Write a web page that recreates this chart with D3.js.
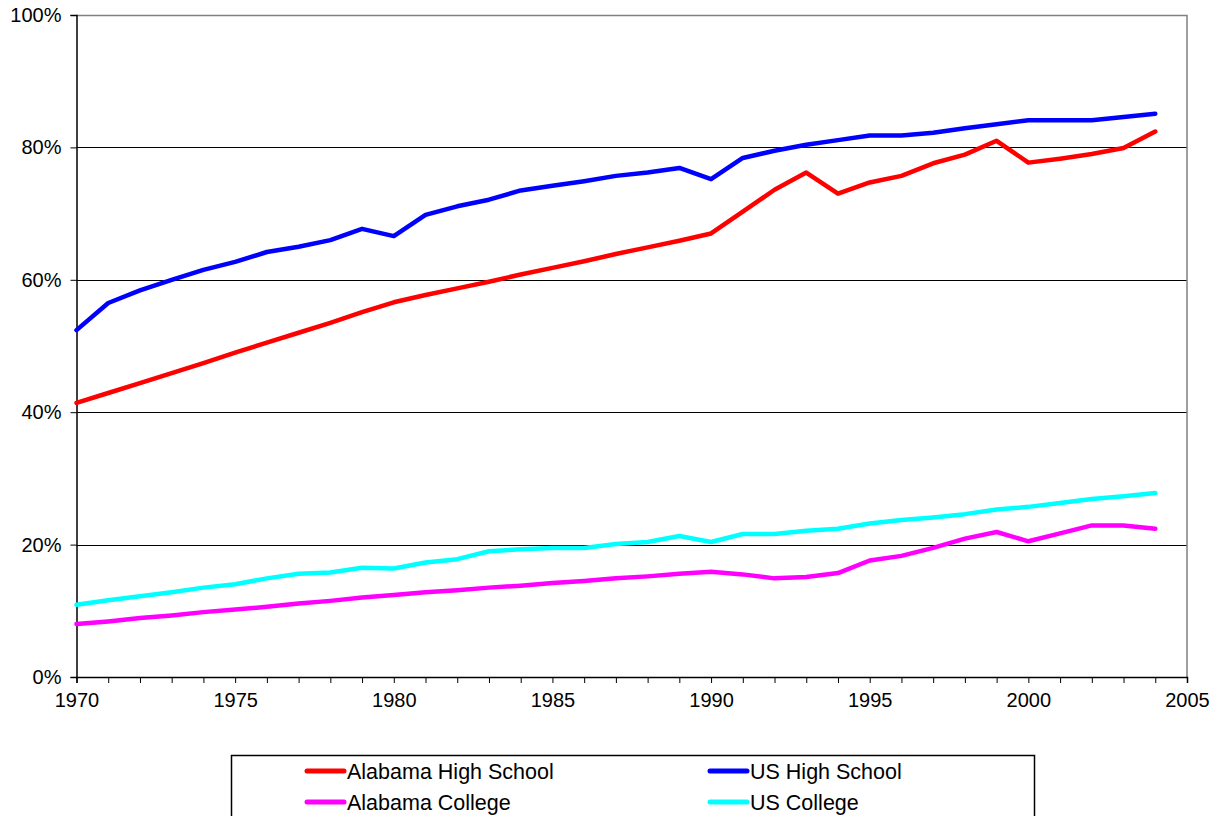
<!DOCTYPE html>
<html>
<head>
<meta charset="utf-8">
<script src="https://cdn.jsdelivr.net/npm/d3@7"></script>
<style>
  body { margin: 0; background: #fff; }
  svg { display: block; font-family: "Liberation Sans", Arial, sans-serif; }
</style>
</head>
<body>
<svg id="chart" width="1216" height="816"></svg>
<script>
const years = d3.range(1970, 2005);
const alabamaHS = [41.4, 42.9, 44.4, 45.9, 47.4, 49.0, 50.5, 52.0, 53.5, 55.1,
  56.6, 57.7, 58.7, 59.7, 60.8, 61.8, 62.8, 63.9, 64.9, 65.9,
  67.0, 70.3, 73.6, 76.2, 73.0, 74.7, 75.7, 77.6, 78.9, 81.0,
  77.7, 78.3, 79.0, 79.9, 82.4];
const usHS = [52.4, 56.5, 58.4, 60.0, 61.5, 62.7, 64.2, 65.0, 66.0, 67.7,
  66.6, 69.8, 71.1, 72.1, 73.5, 74.2, 74.9, 75.7, 76.2, 76.9,
  75.2, 78.4, 79.5, 80.4, 81.1, 81.8, 81.8, 82.2, 82.9, 83.5,
  84.1, 84.1, 84.1, 84.6, 85.1];
const alabamaCollege = [8.0, 8.4, 8.9, 9.3, 9.8, 10.2, 10.6, 11.1, 11.5, 12.0,
  12.4, 12.8, 13.1, 13.5, 13.8, 14.2, 14.5, 14.9, 15.2, 15.6,
  15.9, 15.5, 14.9, 15.1, 15.7, 17.6, 18.3, 19.5, 20.9, 21.9,
  20.5, 21.7, 22.9, 22.9, 22.4];
const usCollege = [10.9, 11.6, 12.2, 12.8, 13.5, 14.0, 14.9, 15.6, 15.8, 16.5,
  16.4, 17.3, 17.8, 19.0, 19.3, 19.5, 19.5, 20.1, 20.4, 21.3,
  20.4, 21.6, 21.6, 22.1, 22.4, 23.2, 23.7, 24.1, 24.6, 25.3,
  25.7, 26.3, 26.9, 27.3, 27.8];
const yTicks = [0, 20, 40, 60, 80, 100];
const xLabelYears = [1970, 1975, 1980, 1985, 1990, 1995, 2000, 2005];

const series = [
  { name: 'Alabama High School', values: alabamaHS, color: '#ff0000' },
  { name: 'US High School', values: usHS, color: '#0000ff' },
  { name: 'Alabama College', values: alabamaCollege, color: '#ff00ff' },
  { name: 'US College', values: usCollege, color: '#00ffff' }
];

const svg = d3.select('#chart');
const margin = { top: 15, left: 76.5, right: 1187, bottom: 677 };

const x = d3.scaleLinear().domain([1970, 2005]).range([margin.left, margin.right]);
const y = d3.scaleLinear().domain([0, 100]).range([margin.bottom, margin.top]);

// Gridlines
svg.append('g')
  .selectAll('line')
  .data(yTicks.filter(d => d > 0 && d < 100))
  .join('line')
  .attr('x1', margin.left).attr('x2', margin.right)
  .attr('y1', d => Math.round(y(d)) + 0.5).attr('y2', d => Math.round(y(d)) + 0.5)
  .attr('stroke', '#000').attr('stroke-width', 1);

// Plot frame (top and right)
svg.append('path')
  .attr('d', `M${margin.left},${margin.top + 0.5}H${margin.right}V${margin.bottom}`)
  .attr('fill', 'none').attr('stroke', '#808080').attr('stroke-width', 1.5);

// Y axis
const yAxis = svg.append('g')
  .attr('transform', `translate(${margin.left},0)`)
  .call(d3.axisLeft(y).tickValues(yTicks).tickSize(6).tickPadding(9).tickFormat(d => d + '%'));
yAxis.select('.domain').attr('stroke', '#000').attr('stroke-width', 1.5);
yAxis.selectAll('.tick line').attr('stroke', '#000');
yAxis.selectAll('text').attr('font-size', 20).attr('fill', '#000')
  .attr('font-family', '"Liberation Sans", Arial, sans-serif');

// X axis (ticks every year, labels every 5 years)
const xAxis = svg.append('g')
  .attr('transform', `translate(0,${margin.bottom})`)
  .call(d3.axisBottom(x).tickValues(d3.range(1970, 2006)).tickSize(6).tickPadding(10)
    .tickFormat(d => xLabelYears.includes(d) ? d : ''));
xAxis.select('.domain').attr('stroke', '#000').attr('stroke-width', 1.5);
xAxis.selectAll('.tick line').attr('stroke', '#000');
xAxis.selectAll('text').attr('font-size', 20).attr('fill', '#000')
  .attr('font-family', '"Liberation Sans", Arial, sans-serif');

// Lines
const line = d3.line()
  .x((d, i) => x(years[i]))
  .y(d => y(d));

svg.append('g')
  .selectAll('path')
  .data(series)
  .join('path')
  .attr('fill', 'none')
  .attr('stroke', d => d.color)
  .attr('stroke-width', 4.5)
  .attr('stroke-linejoin', 'round')
  .attr('stroke-linecap', 'round')
  .attr('d', d => line(d.values));

// Legend
const legend = svg.append('g');
legend.append('rect')
  .attr('x', 231.5).attr('y', 755.5)
  .attr('width', 803).attr('height', 80)
  .attr('fill', '#fff').attr('stroke', '#000').attr('stroke-width', 1.5);

const legendPos = [
  { x: 307, y: 771 }, { x: 710, y: 771 },
  { x: 307, y: 802 }, { x: 710, y: 802 }
];
const items = legend.selectAll('g.item')
  .data(series)
  .join('g')
  .attr('class', 'item')
  .attr('transform', (d, i) => `translate(${legendPos[i].x},${legendPos[i].y})`);
items.append('line')
  .attr('x1', 0).attr('x2', 37).attr('y1', 0).attr('y2', 0)
  .attr('stroke', d => d.color).attr('stroke-width', 5).attr('stroke-linecap', 'round');
items.append('text')
  .attr('x', 40).attr('y', 0).attr('dy', '0.35em')
  .attr('font-size', 21.5).attr('fill', '#000')
  .text(d => d.name);
</script>
</body>
</html>
